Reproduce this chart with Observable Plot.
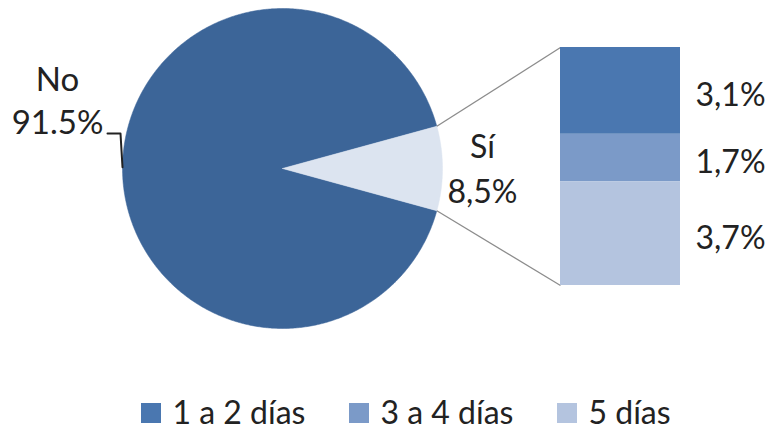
<!DOCTYPE html>
<html><head><meta charset="utf-8">
<script src="https://cdn.jsdelivr.net/npm/d3@7"></script>
<script src="https://cdn.jsdelivr.net/npm/@observablehq/plot@0.6"></script>
<style>body{margin:0;background:#fff;} svg{display:block;}</style>
</head><body><div id="chart"></div>
<script>
// ---- data ----
const pieCategories = ["No", "Sí"];
const pieValues = [91.5, 8.5];
const pieLabels = ["No\n91.5%", "Sí\n8,5%"];
const barCategories = ["1 a 2 días", "3 a 4 días", "5 días"];
const barValues = [3.1, 1.7, 3.7];
const barLabels = ["3,1%", "1,7%", "3,7%"];

// ---- styles / layout ----
const pieColors = ["#3c6598", "#dce4f0"];
const barColors = ["#4a77b0", "#7b9ac8", "#b4c4df"];
const FONT = "Lato, 'Open Sans', sans-serif";
const W = 774, H = 430, R = 160, CX = 282, CY = 168;   // pixels; data units: pie radius = 1
const barX1 = 1.7375, barX2 = 2.4875, barTop = 0.75625, barBottom = -0.73125;

// pie geometry (Sí slice centred on angle 0)
const total = d3.sum(pieValues);
const siHalf = Math.PI * pieValues[1] / total;
const sliceAngles = [[siHalf, 2 * Math.PI - siHalf], [-siHalf, siHalf]];
const slices = [];
sliceAngles.forEach(([a0, a1], i) => {
  const n = Math.max(4, Math.ceil((a1 - a0) / (Math.PI / 360)));
  slices.push({k: i, x: 0, y: 0});
  for (let j = 0; j <= n; j++) {
    const a = a0 + (a1 - a0) * j / n;
    slices.push({k: i, x: Math.cos(a), y: Math.sin(a)});
  }
  slices.push({k: i, x: 0, y: 0});
});

// bar stack (top to bottom)
const unit = (barTop - barBottom) / d3.sum(barValues);
let acc = barTop;
const bars = barValues.map((v, i) => {
  const y2 = acc, y1 = acc - v * unit; acc = y1;
  return {cat: barCategories[i], label: barLabels[i], y1, y2, ym: (y1 + y2) / 2, color: barColors[i]};
});

const links = [
  {x1: Math.cos(siHalf), y1: Math.sin(siHalf), x2: barX1, y2: barTop},
  {x1: Math.cos(-siHalf), y1: Math.sin(-siHalf), x2: barX1, y2: barBottom}
];

const px = p => (p - CX) / R, py = p => (CY - p) / R;
const leader = [{x: px(107), y: py(133)}, {x: px(120), y: py(133)}, {x: Math.cos(Math.PI - 0.008), y: Math.sin(Math.PI - 0.008)}];

const legendY = py(413);
const legendSq = [151, 359, 567];
const legend = barCategories.map((c, i) => ({cat: c, color: barColors[i], x: px(legendSq[i]), tx: px(legendSq[i] + 21)}));
const sq = 10 / R;

const chart = Plot.plot({
  width: W, height: H, margin: 0,
  x: {domain: [-CX / R, (W - CX) / R], axis: null},
  y: {domain: [-(H - CY) / R, CY / R], axis: null},
  style: {fontFamily: FONT, background: "#fff"},
  marks: [
    Plot.line(slices, {x: "x", y: "y", z: "k", fill: d => pieColors[d.k], stroke: d => pieColors[d.k], strokeWidth: 0.5, curve: "linear"}),
    Plot.link(links, {x1: "x1", y1: "y1", x2: "x2", y2: "y2", stroke: "#8c8c8c", strokeWidth: 1.3}),
    Plot.rect(bars, {x1: barX1, x2: barX2, y1: "y1", y2: "y2", fill: "color"}),
    Plot.text(bars, {x: barX2, y: "ym", text: "label", textAnchor: "start", dx: 15, dy: 5, fontSize: 32, fill: "#222"}),
    Plot.text([pieLabels[1]], {x: 1.25, y: 0.0125, text: d => d, fontSize: 32, lineHeight: 1.4, fill: "#222"}),
    Plot.text([pieLabels[0]], {x: px(57), y: py(98), text: d => d, fontSize: 33, lineHeight: 1.33, fill: "#222"}),
    Plot.line(leader, {x: "x", y: "y", stroke: "#222", strokeWidth: 2}),
    Plot.rect(legend, {x1: d => d.x - sq, x2: d => d.x + sq, y1: legendY - sq, y2: legendY + sq, fill: "color"}),
    Plot.text(legend, {x: "tx", y: legendY, text: "cat", textAnchor: "start", fontSize: 32, fill: "#222"})
  ]
});
document.getElementById("chart").append(chart);
</script>
</body></html>
